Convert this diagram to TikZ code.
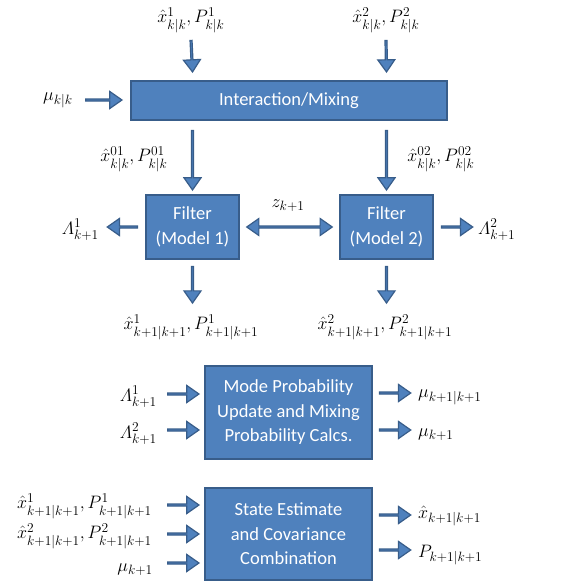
\RequirePackage{fix-cm}
\documentclass[tikz,border=0pt]{standalone}
\usepackage{amsmath}
\usepackage{fontspec}
\newfontfamily\boxfont{Carlito}
\DeclareMathSizes{18}{18}{13.5}{10}
\usetikzlibrary{shapes.arrows,calc}
\definecolor{boxblue}{RGB}{79,129,189}
\definecolor{edgeblue}{RGB}{56,93,138}

\tikzset{
  block/.style={rectangle, draw=edgeblue, fill=boxblue, line width=1.5pt, text=white, align=center, inner sep=0pt, font=\boxfont\fontsize{18.5}{24.5}\selectfont},
  lab/.style={inner sep=0pt, font=\fontsize{18}{22}\selectfont},
  fatarrow/.style={single arrow, draw=edgeblue, fill=boxblue, line width=1.2pt, inner sep=0pt, minimum width=17pt, single arrow head extend=4.5pt, single arrow tip angle=70, single arrow head indent=0pt},
  fatdouble/.style={double arrow, draw=edgeblue, fill=boxblue, line width=1.2pt, inner sep=0pt, minimum width=17pt, double arrow head extend=4.5pt, double arrow tip angle=70, double arrow head indent=0pt}
}

% block arrow from one point to another
\newcommand{\fatarrow}[3][fatarrow]{%
  \path let \p1=(#2), \p2=(#3), \n1={veclen(\x2-\x1,\y2-\y1)}, \n2={atan2(\y2-\y1,\x2-\x1)} in
    node[#1, minimum height=\n1, rotate=\n2] at ($(\p1)!0.5!(\p2)$) {};}

\begin{document}
\begin{tikzpicture}[x=1pt, y=-1pt]
\useasboundingbox (0,0) rectangle (582,581);

% boxes
\node[block, minimum width=316pt, minimum height=39pt] (mix) at (289,100.5) {Interaction/Mixing};
\node[block, minimum width=93pt, minimum height=64pt] (f1) at (192.5,227) {Filter\\(Model 1)};
\node[block, minimum width=93pt, minimum height=64pt] (f2) at (386.5,227) {Filter\\(Model 2)};
\node[block, minimum width=167pt, minimum height=93pt] (mode) at (288.5,412.5) {Mode Probability\\Update and Mixing\\Probability Calcs.};
\node[block, minimum width=167pt, minimum height=92pt] (state) at (288.5,534) {State Estimate\\and Covariance\\Combination};

% labels
\node[lab] (xa1) at (191,20) {$\hat{x}^1_{k|k}, P^1_{k|k}$};
\node[lab] (xa2) at (386,20) {$\hat{x}^2_{k|k}, P^2_{k|k}$};
\node[lab] (mu) at (58,100) {$\mu_{k|k}$};
\node[lab] (x01) at (134,159) {$\hat{x}^{01}_{k|k}, P^{01}_{k|k}$};
\node[lab] (x02) at (441,159) {$\hat{x}^{02}_{k|k}, P^{02}_{k|k}$};
\node[lab] (z) at (288,206) {$z_{k+1}$};
\node[lab, anchor=east] (L1) at (99,230) {$\varLambda^1_{k+1}$};
\node[lab, anchor=west] (L2) at (478,230) {$\varLambda^2_{k+1}$};
\node[lab] (x1o) at (191,327) {$\hat{x}^1_{k+1|k+1}, P^1_{k+1|k+1}$};
\node[lab] (x2o) at (385,327) {$\hat{x}^2_{k+1|k+1}, P^2_{k+1|k+1}$};

\node[lab, anchor=east] (mL1) at (157,397) {$\varLambda^1_{k+1}$};
\node[lab, anchor=east] (mL2) at (157,434) {$\varLambda^2_{k+1}$};
\node[lab, anchor=west] (mu1) at (418,397) {$\mu_{k+1|k+1}$};
\node[lab, anchor=west] (mu2) at (418,435) {$\mu_{k+1}$};

\node[lab, anchor=east] (sx1) at (152,506) {$\hat{x}^1_{k+1|k+1}, P^1_{k+1|k+1}$};
\node[lab, anchor=east] (sx2) at (152,536) {$\hat{x}^2_{k+1|k+1}, P^2_{k+1|k+1}$};
\node[lab, anchor=east] (smu) at (153,570) {$\mu_{k+1}$};
\node[lab, anchor=west] (sxo) at (418,516) {$\hat{x}_{k+1|k+1}$};
\node[lab, anchor=west] (sPo) at (418,555) {$P_{k+1|k+1}$};

% arrows
\fatarrow{$(xa1.south)+(0,7)$}{$(mix.north -| f1)+(0,-9)$}
\fatarrow{$(xa2.south)+(0,7)$}{$(mix.north -| f2)+(0,-9)$}
\fatarrow{$(mu.east)+(12,0)$}{$(mix.west |- mu)+(-9,0)$}
\fatarrow{$(mix.south -| f1)+(0,9)$}{$(f1.north)+(0,-5)$}
\fatarrow{$(mix.south -| f2)+(0,9)$}{$(f2.north)+(0,-5)$}
\fatarrow{$(f1.west)+(-7,0)$}{$(L1.east |- f1)+(9,0)$}
\fatarrow{$(f2.east)+(7,0)$}{$(L2.west |- f2)+(-6,0)$}
\fatarrow[fatdouble]{$(f1.east)+(7,0)$}{$(f2.west)+(-7,0)$}
\fatarrow{$(f1.south)+(0,6)$}{$(x1o.north -| f1)+(0,-12)$}
\fatarrow{$(f2.south)+(0,6)$}{$(x2o.north -| f2)+(0,-12)$}

\fatarrow{$(mL1.east)+(10,-3)$}{$(mode.west |- mL1)+(-6,-3)$}
\fatarrow{$(mL2.east)+(10,-4)$}{$(mode.west |- mL2)+(-6,-4)$}
\fatarrow{$(mode.east |- mu1)+(6,-4)$}{$(mu1.west)+(-8,-4)$}
\fatarrow{$(mode.east |- mu2)+(6,-5)$}{$(mu2.west)+(-8,-5)$}

\fatarrow{$(sx1.east)+(15,-1)$}{$(state.west |- sx1)+(-6,-1)$}
\fatarrow{$(sx2.east)+(15,-2)$}{$(state.west |- sx2)+(-6,-2)$}
\fatarrow{$(smu.east)+(14,-7)$}{$(state.west |- smu)+(-6,-7)$}
\fatarrow{$(state.east |- sxo)+(6,-1)$}{$(sxo.west)+(-8,-1)$}
\fatarrow{$(state.east |- sPo)+(6,-5)$}{$(sPo.west)+(-8,-5)$}

\end{tikzpicture}
\end{document}
